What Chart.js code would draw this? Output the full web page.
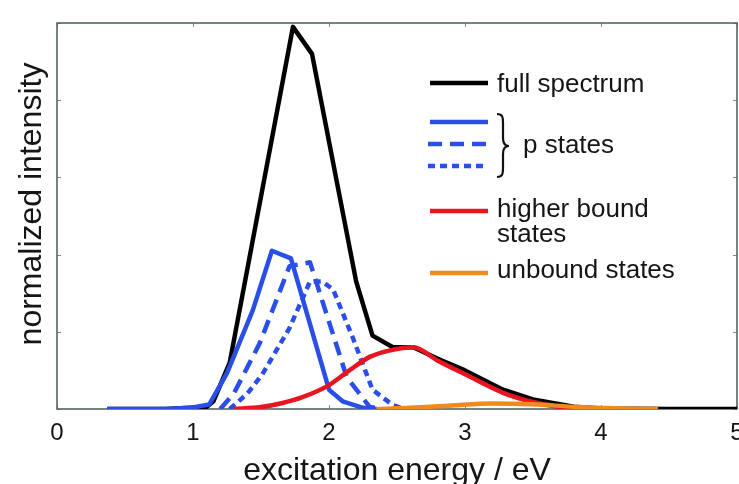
<!DOCTYPE html>
<html>
<head>
<meta charset="utf-8">
<script src="https://cdn.jsdelivr.net/npm/chart.js@4/dist/chart.umd.min.js"></script>
<style>
  html, body { margin: 0; padding: 0; background: #fff; overflow: hidden; }
  #wrap { width: 739px; height: 484px; }
</style>
</head>
<body>
<div id="wrap"><canvas id="c" width="739" height="484"></canvas></div>
<script>
// ---- data ----
const xTickValues = [0, 1, 2, 3, 4, 5];

const fullX = [0.37, 0.8, 1.1, 1.15, 1.27, 1.735, 1.875, 2.2, 2.32, 2.47, 2.62, 2.8, 3.0, 3.28, 3.5, 3.8, 4.0, 4.5, 5.0];
const fullY = [0, 0, 0.005, 0.02, 0.12, 0.99, 0.92, 0.33, 0.19, 0.16, 0.16, 0.13, 0.10, 0.05, 0.025, 0.006, 0.001, 0, 0];

const pSolidX = [0.37, 0.8, 1.0, 1.12, 1.25, 1.44, 1.58, 1.72, 2.0, 2.1, 2.25, 2.35];
const pSolidY = [0, 0, 0.004, 0.012, 0.093, 0.256, 0.41, 0.39, 0.05, 0.02, 0.003, 0];

const pDashX = [1.2, 1.3, 1.49, 1.71, 1.86, 2.13, 2.3, 2.4];
const pDashY = [0, 0.04, 0.17, 0.37, 0.38, 0.083, 0.005, 0];

const pDotX = [1.27, 1.4, 1.51, 1.71, 1.86, 1.95, 2.03, 2.18, 2.32, 2.47, 2.55];
const pDotY = [0, 0.04, 0.09, 0.21, 0.33, 0.33, 0.31, 0.18, 0.05, 0.01, 0];

const higherX = [1.3, 1.5, 1.65, 1.8, 2.0, 2.15, 2.3, 2.45, 2.62, 2.8, 3.0, 3.28, 3.5, 3.7, 3.9, 4.1];
const higherY = [0, 0.005, 0.015, 0.03, 0.062, 0.1, 0.135, 0.152, 0.16, 0.125, 0.09, 0.042, 0.018, 0.005, 0.001, 0];

const unboundX = [2.35, 2.6, 2.9, 3.2, 3.5, 3.8, 4.1, 4.42];
const unboundY = [0, 0.003, 0.009, 0.014, 0.012, 0.006, 0.002, 0];

const legendLabels = ['full spectrum', 'p states', 'higher bound', 'states', 'unbound states'];
const xTitle = 'excitation energy / eV';
const yTitle = 'normalized intensity';

// ---- colours / styles ----
const BLACK = '#000000';
const BLUE = '#2a4ee8';
const RED = '#e8141f';
const ORANGE = '#ef8a1f';
const FRAME = '#55655f';
const TEXT = '#151515';
const FONT = '"Liberation Sans", Arial, Helvetica, sans-serif';
const LW = 4.5;

function pts(xs, ys) { return xs.map((x, i) => ({ x: x, y: ys[i] })); }

const base = { showLine: true, pointRadius: 0, borderWidth: LW, fill: false, tension: 0,
               borderJoinStyle: 'round', borderCapStyle: 'butt' };

const datasets = [
  Object.assign({}, base, { label: 'unbound states', data: pts(unboundX, unboundY), borderColor: ORANGE, cubicInterpolationMode: 'monotone' }),
  Object.assign({}, base, { label: 'higher bound states', data: pts(higherX, higherY), borderColor: RED, cubicInterpolationMode: 'monotone' }),
  Object.assign({}, base, { label: 'p states (dotted)', data: pts(pDotX, pDotY), borderColor: BLUE, borderDash: [7, 5] }),
  Object.assign({}, base, { label: 'p states (dashed)', data: pts(pDashX, pDashY), borderColor: BLUE, borderDash: [14, 8] }),
  Object.assign({}, base, { label: 'p states', data: pts(pSolidX, pSolidY), borderColor: BLUE }),
  Object.assign({}, base, { label: 'full spectrum', data: pts(fullX, fullY), borderColor: BLACK })
];

const framePlugin = {
  id: 'frame',
  beforeDatasetsDraw(chart) {
    const { ctx, chartArea: a, scales } = chart;
    ctx.save();
    ctx.strokeStyle = '#7d8c88';
    ctx.lineWidth = 1;
    const tl = 4;
    scales.x.ticks.forEach(t => {
      const px = Math.round(scales.x.getPixelForValue(t.value)) + 0.5;
      ctx.beginPath();
      ctx.moveTo(px, a.bottom); ctx.lineTo(px, a.bottom - tl);
      ctx.moveTo(px, a.top); ctx.lineTo(px, a.top + tl);
      ctx.stroke();
    });
    scales.y.ticks.forEach(t => {
      const py = Math.round(scales.y.getPixelForValue(t.value)) + 0.5;
      ctx.beginPath();
      ctx.moveTo(a.left, py); ctx.lineTo(a.left + tl, py);
      ctx.moveTo(a.right, py); ctx.lineTo(a.right - tl, py);
      ctx.stroke();
    });
    ctx.strokeStyle = FRAME;
    ctx.lineWidth = 1.6;
    ctx.strokeRect(a.left, a.top, a.right - a.left, a.bottom - a.top);
    ctx.restore();
  },
  afterDraw(chart) {
    const { ctx, chartArea: a } = chart;
    ctx.save();
    // y-axis title
    ctx.fillStyle = TEXT;
    ctx.font = '32px ' + FONT;
    ctx.textAlign = 'center';
    ctx.textBaseline = 'middle';
    ctx.translate(a.left - 25, (a.top + a.bottom) / 2 - 12);
    ctx.rotate(-Math.PI / 2);
    ctx.fillText(yTitle, 0, 0);
    ctx.restore();

    // legend
    ctx.save();
    const lx0 = 430, lx1 = 488, tx = 497;
    function sample(y, color, dash, x0, x1) {
      ctx.beginPath();
      ctx.setLineDash(dash);
      ctx.strokeStyle = color;
      ctx.lineWidth = LW;
      ctx.moveTo(x0, y); ctx.lineTo(x1, y);
      ctx.stroke();
      ctx.setLineDash([]);
    }
    sample(83, BLACK, [], lx0, lx1);
    sample(122, BLUE, [], lx0, lx1);
    sample(144, BLUE, [14, 8], lx0 - 2, lx1 + 2);
    sample(166, BLUE, [7, 5], lx0 - 2, lx1 - 4);
    sample(211, RED, [], lx0, lx1);
    sample(273, ORANGE, [], lx0, lx1);

    // brace
    ctx.strokeStyle = '#111';
    ctx.lineWidth = 2.2;
    ctx.beginPath();
    const bx = 497, by0 = 114, by1 = 177, bm = 146;
    ctx.moveTo(bx, by0);
    ctx.bezierCurveTo(bx + 6, by0, bx + 6, by0 + 4, bx + 6, by0 + 9);
    ctx.lineTo(bx + 6, bm - 8);
    ctx.bezierCurveTo(bx + 6, bm - 2, bx + 9, bm, bx + 12, bm);
    ctx.bezierCurveTo(bx + 9, bm, bx + 6, bm + 2, bx + 6, bm + 8);
    ctx.lineTo(bx + 6, by1 - 9);
    ctx.bezierCurveTo(bx + 6, by1 - 4, bx + 6, by1, bx, by1);
    ctx.stroke();

    ctx.fillStyle = TEXT;
    ctx.font = '26px ' + FONT;
    ctx.textAlign = 'left';
    ctx.textBaseline = 'alphabetic';
    ctx.fillText(legendLabels[0], tx, 92);
    ctx.fillText(legendLabels[1], 523, 153);
    ctx.fillText(legendLabels[2], tx, 217);
    ctx.fillText(legendLabels[3], tx, 242);
    ctx.fillText(legendLabels[4], tx, 278);
    ctx.restore();
  }
};

new Chart(document.getElementById('c'), {
  type: 'scatter',
  data: { datasets: datasets },
  options: {
    responsive: false,
    animation: false,
    devicePixelRatio: 1,
    layout: { padding: { top: 23, right: 2, left: 0, bottom: 0 } },
    plugins: { legend: { display: false }, tooltip: { enabled: false }, title: { display: false } },
    scales: {
      x: {
        type: 'linear', min: 0, max: 5,
        afterBuildTicks(scale) { scale.ticks = xTickValues.map(v => ({ value: v })); },
        ticks: { stepSize: 1, color: TEXT, font: { family: FONT, size: 24, lineHeight: 1.2 }, padding: 10, maxRotation: 0,
                 callback: v => String(v) },
        grid: { display: false, drawTicks: false },
        border: { display: false },
        title: { display: true, text: xTitle, color: TEXT, font: { family: FONT, size: 32, lineHeight: 1 }, padding: { top: 0, bottom: -3 } },
        afterFit(scale) { scale.height = 75; scale.paddingLeft = 0; scale.paddingRight = 0; }
      },
      y: {
        type: 'linear', min: 0, max: 1,
        ticks: { display: false, stepSize: 0.2 },
        grid: { display: false, drawTicks: false },
        border: { display: false },
        afterFit(scale) { scale.width = 57; scale.paddingTop = 0; scale.paddingBottom = 0; }
      }
    }
  },
  plugins: [framePlugin]
});
</script>
</body>
</html>
